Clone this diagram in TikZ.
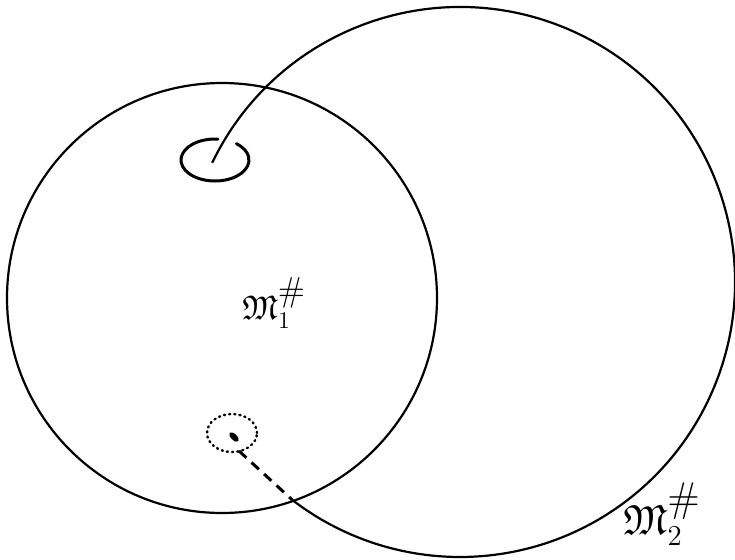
\documentclass[tikz,border=0pt]{standalone}
\usepackage{amssymb}
\usetikzlibrary{calc}
\begin{document}
\begin{tikzpicture}[x=0.5pt,y=0.5pt,
  rim/.style={line width=1.1pt},
  loopline/.style={line width=1.5pt, line cap=round},
  dotloop/.style={line width=1.2pt, dash pattern=on 0.6pt off 2pt, line cap=round},
  dashline/.style={line width=1.5pt, dash pattern=on 5pt off 3.5pt},
  lab/.style={inner sep=0pt}]
\useasboundingbox (0,0) rectangle (735,559);
% centres
\coordinate (c1) at (222,261);
\coordinate (c2) at (460,277);
% left circle
\draw[rim] (c1) circle[radius=215];
% right circle, its arc running into the upper small loop
\coordinate (hookend) at ($(c2)+(154.3:275)$);
\coordinate (meet) at ($(c2)+(-127.6:275)$);
\draw[rim] (hookend) arc[start angle=154.3, end angle=-127.6, radius=275];
% upper open loop
\coordinate (u) at (215,399);
\draw[loopline] ($(u)+(85:34 and 21)$) arc[start angle=85, end angle=411, x radius=34, y radius=21];
% lower dotted loop with its point
\coordinate (l) at (232,126);
\draw[dotloop] (l) ellipse[x radius=25, y radius=19];
\fill[rotate around={-45:(234,122)}] (234,122) ellipse[x radius=6, y radius=3];
\coordinate (lb) at (239,108);
\draw[dashline] (lb) -- (meet);
% labels
\node[lab] (m1) at (274,256) {\fontsize{17}{17}\selectfont$\mathfrak{M}^{\textstyle\#}_{1}$};
\node[lab] (m2) at (662,45) {\fontsize{21}{21}\selectfont$\mathfrak{M}^{\textstyle\#}_{2}$};
\end{tikzpicture}
\end{document}
